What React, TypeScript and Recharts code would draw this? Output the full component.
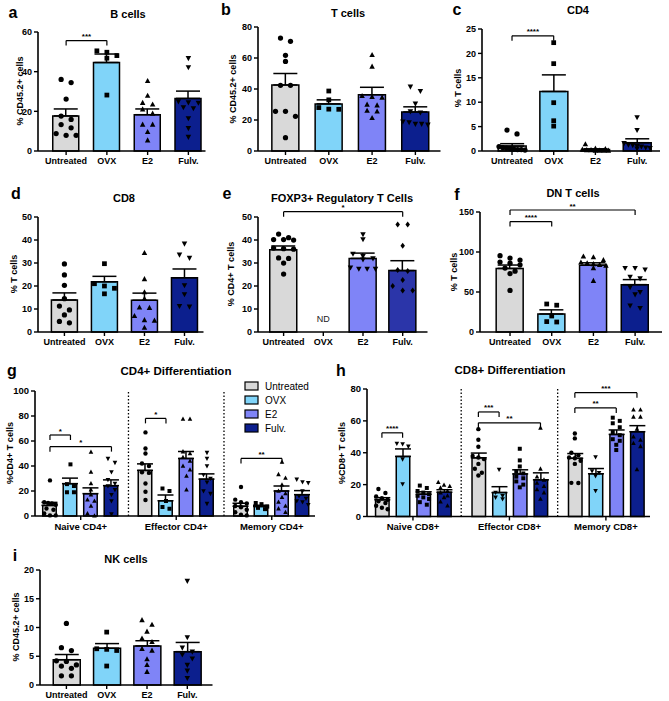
import React from 'react';
import { ComposedChart, Bar, Cell, ErrorBar, Scatter, XAxis, YAxis, ReferenceLine, ReferenceDot } from 'recharts';

const FONT = '"Liberation Sans", Arial, Helvetica, sans-serif';

// ---------- categories ----------
const GROUPS = ['Untreated', 'OVX', 'E2', 'Fulv.'];
const CD4_SUBSETS = ['Naive CD4+', 'Effector CD4+', 'Memory CD4+'];
const CD8_SUBSETS = ['Naive CD8+', 'Effector CD8+', 'Memory CD8+'];

// ---------- a: B cells (% CD45.2+ cells) ----------
const bCellsMean = [17.7, 44.6, 18.3, 26.5];
const bCellsSem = [3.5, 4.3, 2.9, 3.7];
const bCellsPoints = [
  [36.1, 34.5, 26.2, 17.6, 15.9, 13.3, 11.7, 8.8, 7.9, 7.9],
  [50.5, 49.8, 48.1, 46.8, 28.2],
  [35.3, 27.9, 24.3, 23.5, 21.0, 18.9, 13.3, 13.3, 9.6, 5.4],
  [46.8, 42.2, 25.0, 24.5, 24.3, 22.0, 21.5, 16.5, 11.5, 7.1],
];
const bCellsSig = [{ from: 0, to: 1, y: 55.7, label: '***' }];

// ---------- b: T cells (% CD45.2+ cells) ----------
const tCellsMean = [42.6, 30.4, 36.3, 25.2];
const tCellsSem = [7.4, 2.6, 4.8, 3.3];
const tCellsPoints = [
  [72.9, 70.8, 61.7, 57.8, 42.4, 42.4, 25.6, 25.6, 22.4, 8.6],
  [38.7, 33.0, 28.0, 27.0, 26.9],
  [62.0, 54.5, 35.5, 35.0, 34.5, 30.0, 29.5, 26.0, 25.5, 21.3],
  [41.5, 38.7, 30.5, 25.5, 24.8, 19.0, 18.5, 17.5, 17.5, 17.0],
];

// ---------- c: CD4 (% T cells) ----------
const cd4Mean = [1.0, 12.2, 0.3, 1.7];
const cd4Sem = [0.5, 3.4, 0.15, 0.8];
const cd4Points = [
  [4.3, 3.5, 0.9, 0.7, 0.6, 0.5, 0.4, 0.3, 0.3, 0.2],
  [22.2, 17.9, 9.9, 6.2, 5.1],
  [1.4, 0.5, 0.4, 0.3, 0.2, 0.2, 0.1, 0.1, 0.1, 0.1],
  [6.9, 4.3, 1.6, 1.3, 1.2, 1.0, 0.9, 0.7, 0.6, 0.5],
];
const cd4Sig = [{ from: 0, to: 1, y: 23.6, label: '****' }];

// ---------- d: CD8 (% T cells) ----------
const cd8Mean = [13.9, 21.8, 13.8, 23.6];
const cd8Sem = [3.1, 2.4, 3.1, 3.8];
const cd8Points = [
  [29.6, 24.8, 20.3, 14.5, 11.3, 9.6, 7.4, 4.6, 4.0],
  [29.7, 21.0, 20.0, 19.0, 16.6],
  [34.4, 23.0, 17.3, 14.5, 10.7, 10.5, 7.0, 5.2, 5.0, 1.9],
  [38.4, 33.6, 32.2, 20.3, 16.4, 11.3, 11.0],
];

// ---------- e: FOXP3+ Regulatory T cells (% CD4+ T cells) ----------
const tregMean = [35.8, null, 32.0, 26.7];
const tregSem = [1.6, 0, 2.3, 4.3];
const tregPoints = [
  [42.6, 41.0, 40.2, 40.2, 40.0, 36.5, 36.2, 36.0, 32.2, 32.0, 30.0, 25.2],
  [],
  [42.5, 40.3, 34.0, 33.0, 32.0, 31.5, 28.0, 27.5, 27.5, 27.4],
  [46.7, 46.7, 37.5, 27.0, 26.5, 22.6, 20.0, 18.0, 18.0],
];
const tregSig = [{ from: 0, to: 3, y: 52.3, label: '*' }];
const tregNotes = [{ x: 1, y: 5.6, text: 'ND' }];

// ---------- f: DN T cells (% T cells) ----------
const dnMean = [79.5, 22.5, 83.5, 59.2];
const dnSem = [4.2, 5.2, 3.0, 6.3];
const dnPoints = [
  [95.4, 92.4, 90.0, 87.4, 86.0, 84.0, 80.0, 76.0, 73.0, 52.0],
  [35.0, 33.5, 20.0, 13.0, 12.5],
  [94.5, 93.5, 90.0, 87.0, 86.0, 85.0, 84.0, 83.0, 80.0, 64.0],
  [80.0, 80.0, 78.0, 69.0, 67.0, 56.0, 50.0, 47.0, 33.0, 30.0],
];
const dnSig = [
  { from: 0, to: 3, y: 152.5, label: '**' },
  { from: 0, to: 1, y: 138, label: '****' },
];

// ---------- g: CD4+ differentiation (%CD4+ T cells) ----------
const cd4NaiveMean = [8.5, 25.9, 17.9, 24.3];
const cd4NaiveSem = [2.4, 4.4, 4.6, 4.6];
const cd4NaivePoints = [
  [28.5, 11, 10.5, 10, 9, 6, 5, 2, 0.5, 0.5],
  [41.3, 25.5, 24, 19, 19],
  [51.2, 35.2, 26, 21, 17, 13, 12, 8, 2, 0.2],
  [45.9, 42.7, 35.2, 29, 26, 24, 21, 17, 12, 1.5],
];
const cd4EffMean = [36.5, 12.2, 46.0, 29.5];
const cd4EffSem = [5.2, 4.6, 5.6, 4.2];
const cd4EffPoints = [
  [66.9, 54, 50, 42, 40, 35, 34.5, 26, 19.4, 12.8],
  [22, 20, 12, 7.2, 5.8],
  [77.6, 77.6, 51.5, 50, 47, 44, 40, 37, 32, 21],
  [50.7, 46, 40, 33, 30, 27, 20, 17.9, 9.9],
];
const cd4MemMean = [7.8, 7.6, 20.0, 17.1];
const cd4MemSem = [2.4, 1.0, 4.0, 3.2];
const cd4MemPoints = [
  [23.2, 13.1, 11, 10, 8, 7, 5, 3, 1, 0.5],
  [10.4, 9.5, 7.5, 6.5, 5.5],
  [43.2, 33.3, 30.4, 25, 20, 18, 15, 11.2, 8, 5.9, 3],
  [29.3, 27.2, 26.5, 20, 16, 14, 12, 11.2, 9],
];
const cd4DiffSig = [
  { from: 0, to: 1, y: 64.8, label: '*' },
  { from: 0, to: 3, y: 55.5, label: '*' },
  { from: 4, to: 5, y: 78.1, label: '*' },
  { from: 8, to: 10, y: 46.1, label: '**' },
];

// ---------- h: CD8+ differentiation (%CD8+ T cells) ----------
const cd8NaiveMean = [10.5, 37.7, 14.0, 15.2];
const cd8NaiveSem = [1.3, 4.7, 1.5, 1.6];
const cd8NaivePoints = [
  [17.3, 14.7, 12.5, 11.5, 10.5, 9.5, 8.5, 6.7, 5.5, 4.5],
  [45.8, 45.5, 44, 36, 20.4],
  [19.4, 17.9, 16, 15, 14, 13, 12, 11, 9, 7.4],
  [21.5, 19.8, 19, 18, 16, 15, 13, 12, 9.3, 6.7],
];
const cd8EffMean = [36.8, 15.0, 26.7, 23.0];
const cd8EffSem = [3.0, 3.7, 2.6, 4.4];
const cd8EffPoints = [
  [54.8, 48.2, 43.8, 38, 37, 36, 33, 30, 27.5, 25.7],
  [29.5, 15, 13, 12, 11],
  [42.5, 35.2, 31.4, 28.5, 27, 25, 24, 22, 20, 18.3],
  [55.6, 29.9, 25, 23, 21, 19, 17, 15, 11],
];
const cd8MemMean = [36.5, 26.8, 51.5, 53.2];
const cd8MemSem = [3.0, 3.3, 2.8, 3.8];
const cd8MemPoints = [
  [52.1, 49, 40, 38.5, 37, 36.5, 35, 33, 21.1, 21],
  [37.3, 28.5, 27.5, 25.5, 16.2],
  [62, 60, 58.5, 56, 53, 51, 48.5, 47.5, 45, 41.7],
  [67, 67, 62.5, 62.5, 55, 50, 48, 46, 44, 29.5],
];
const cd8DiffSig = [
  { from: 0, to: 1, y: 52.5, label: '****' },
  { from: 4, to: 5, y: 65.6, label: '***' },
  { from: 4, to: 7, y: 58.8, label: '**' },
  { from: 8, to: 11, y: 77.7, label: '***' },
  { from: 8, to: 10, y: 68.1, label: '**' },
];

// ---------- i: NK cells (% CD45.2+ cells) ----------
const nkMean = [4.4, 6.4, 6.8, 5.8];
const nkSem = [0.9, 0.8, 0.9, 1.6];
const nkPoints = [
  [10.7, 6.5, 6.0, 4.2, 4.1, 3.5, 3.3, 2.9, 1.6, 1.6],
  [9.2, 6.3, 6.2, 6.0, 3.3],
  [11.3, 10.5, 9.3, 8.1, 7.5, 6.3, 6.0, 4.5, 3.5, 2.3],
  [18.1, 8.3, 6.5, 5.8, 5.3, 4.6, 3.5, 2.5, 1.2],
];

// ---------- styles ----------
const COLORS = ['#d9d9d9', '#80d4f9', '#7f84f7', '#0c1f8e'];
const TREG_COLORS = ['#d9d9d9', '#80d4f9', '#7f84f7', '#2b35a9'];
const SHAPES_STD = ['circle', 'square', 'triUp', 'triDown'];
const SHAPES_TREG = ['circle', 'square', 'triDown', 'diamond'];
const SHAPES_CD8 = ['circle', 'triDown', 'square', 'triUp'];

const GROUP_STEP = 4.66;
const diffXs = [0, 1, 2].flatMap((g) => [0, 1, 2, 3].map((t) => g * GROUP_STEP + t));
const diffTicks = [0, 1, 2].map((g) => g * GROUP_STEP + 1.5);
const diffSeps = [1.5 + GROUP_STEP / 2, 1.5 + GROUP_STEP * 1.5];

type Sig = { from: number; to: number; y: number; label: string };
type PanelCfg = {
  box: { l: number; t: number; r: number; b: number };
  xDomain: [number, number];
  xs: number[];
  xTicks: number[];
  xLabels: string[];
  yMax: number;
  yTicks: number[];
  means: (number | null)[];
  sems: number[];
  points: number[][];
  colors: string[];
  shapes: string[];
  sig?: Sig[];
  separators?: number[];
  barSize: number;
  marker: number;
  spread: number;
  cap: number;
  tickFont: number;
  notes?: { x: number; y: number; text: string }[];
};

const YW = 34, MT = 24, MR = 6, XH = 24;

function swarm(values: number[], center: number, pxX: number, pxY: number, d: number, step: number, maxHalf: number) {
  const sorted = [...values].sort((a, b) => b - a);
  const rows: number[][] = [];
  for (const v of sorted) {
    const row = rows[rows.length - 1];
    if (row && (row[0] - v) * pxY < d) row.push(v);
    else rows.push([v]);
  }
  const out: { px: number; v: number }[] = [];
  for (const row of rows) {
    const n = row.length;
    const st = n > 1 ? Math.min(step, (2 * maxHalf) / (n - 1)) : 0;
    row.forEach((v, i) => out.push({ px: center + ((i - (n - 1) / 2) * st) / pxX, v }));
  }
  return out;
}

function Marker({ kind, cx, cy, s }: { kind: string; cx: number; cy: number; s: number }) {
  if (cx == null || cy == null || isNaN(cx) || isNaN(cy)) return null;
  const h = s / 2;
  switch (kind) {
    case 'circle':
      return <circle cx={cx} cy={cy} r={h * 1.05} fill="#000" />;
    case 'square':
      return <rect x={cx - h * 0.95} y={cy - h * 0.95} width={h * 1.9} height={h * 1.9} fill="#000" />;
    case 'triUp':
      return <polygon points={`${cx},${cy - h * 1.2} ${cx - h * 1.1},${cy + h * 0.85} ${cx + h * 1.1},${cy + h * 0.85}`} fill="#000" />;
    case 'triDown':
      return <polygon points={`${cx},${cy + h * 1.2} ${cx - h * 1.1},${cy - h * 0.85} ${cx + h * 1.1},${cy - h * 0.85}`} fill="#000" />;
    default:
      return <polygon points={`${cx},${cy - h * 1.2} ${cx + h * 0.9},${cy} ${cx},${cy + h * 1.2} ${cx - h * 0.9},${cy}`} fill="#000" />;
  }
}

function Panel(c: PanelCfg) {
  const w = c.box.r - c.box.l;
  const h = c.box.b - c.box.t;
  const pxX = w / (c.xDomain[1] - c.xDomain[0]);
  const pxY = h / c.yMax;
  const barData = c.xs
    .map((x, i) => ({ x, mean: c.means[i], err: [0, c.sems[i]], fill: c.colors[i] }))
    .filter((d) => d.mean != null);
  const drop = 5 / pxY;
  const tickStyle = { fontSize: c.tickFont, fontWeight: 700, fill: '#000', fontFamily: FONT };
  const axisStyle = { stroke: '#000', strokeWidth: 1.6 };
  return (
    <div style={{ position: 'absolute', left: c.box.l - YW, top: c.box.t - MT }}>
      <ComposedChart
        width={w + YW + MR}
        height={h + MT + XH}
        data={barData}
        margin={{ top: MT, right: MR, bottom: 0, left: 0 }}
      >
        <XAxis
          type="number"
          dataKey="x"
          domain={c.xDomain}
          ticks={c.xTicks}
          interval={0}
          tickFormatter={(v: number) => c.xLabels[c.xTicks.indexOf(v)] ?? ''}
          height={XH}
          tick={tickStyle}
          tickSize={4}
          tickMargin={3}
          axisLine={axisStyle}
          tickLine={{ stroke: '#000', strokeWidth: 1.4 }}
        />
        <XAxis xAxisId="pts" type="number" dataKey="px" domain={c.xDomain} hide />
        <YAxis
          type="number"
          domain={[0, c.yMax]}
          ticks={c.yTicks}
          interval={0}
          width={YW}
          tick={tickStyle}
          tickSize={4}
          tickMargin={2}
          axisLine={axisStyle}
          tickLine={{ stroke: '#000', strokeWidth: 1.4 }}
        />
        {(c.separators || []).map((s, i) => (
          <ReferenceLine key={'sep' + i} x={s} stroke="#000" strokeWidth={1.3} strokeDasharray="1.5 2" ifOverflow="visible" />
        ))}
        <Bar dataKey="mean" barSize={c.barSize} isAnimationActive={false} stroke="#000" strokeWidth={1.5}>
          {barData.map((d, i) => (
            <Cell key={i} fill={d.fill} />
          ))}
          <ErrorBar dataKey="err" width={c.cap} stroke="#000" strokeWidth={1.5} direction="y" />
        </Bar>
        {c.points.map((vals, i) =>
          vals.length ? (
            <Scatter
              key={'pts' + i}
              xAxisId="pts"
              data={swarm(vals, c.xs[i], pxX, pxY, c.marker, c.spread, c.barSize / 2 - 1)}
              dataKey="v"
              isAnimationActive={false}
              shape={(p: any) => <Marker kind={c.shapes[i]} cx={p.cx} cy={p.cy} s={c.marker} />}
            />
          ) : null
        )}
        {(c.sig || []).flatMap((s, i) => {
          const x1 = c.xs[s.from];
          const x2 = c.xs[s.to];
          return [
            <ReferenceLine key={'sh' + i} segment={[{ x: x1, y: s.y }, { x: x2, y: s.y }]} stroke="#000" strokeWidth={1.2} ifOverflow="visible" />,
            <ReferenceLine key={'sl' + i} segment={[{ x: x1, y: s.y }, { x: x1, y: s.y - drop }]} stroke="#000" strokeWidth={1.2} ifOverflow="visible" />,
            <ReferenceLine key={'sr' + i} segment={[{ x: x2, y: s.y }, { x: x2, y: s.y - drop }]} stroke="#000" strokeWidth={1.2} ifOverflow="visible" />,
            <ReferenceDot
              key={'st' + i}
              x={(x1 + x2) / 2}
              y={s.y}
              r={1}
              ifOverflow="visible"
              shape={(p: any) => (
                <text x={p.cx} y={p.cy - 1.5} textAnchor="middle" fontSize={8} fontWeight={700} fill="#000" fontFamily={FONT}>
                  {s.label}
                </text>
              )}
            />,
          ];
        })}
        {(c.notes || []).map((n, i) => (
          <ReferenceDot
            key={'note' + i}
            x={n.x}
            y={n.y}
            r={1}
            ifOverflow="visible"
            shape={(p: any) => (
              <text x={p.cx} y={p.cy} textAnchor="middle" dominantBaseline="central" fontSize={9} fill="#222" fontFamily={FONT}>
                {n.text}
              </text>
            )}
          />
        ))}
      </ComposedChart>
    </div>
  );
}

const STD = [0, 1, 2, 3];

function Texts() {
  const letters: [string, number, number][] = [
    ['a', 13, 12], ['b', 226, 9], ['c', 457, 9],
    ['d', 16, 193], ['e', 227, 193], ['f', 457, 194],
    ['g', 12, 370], ['h', 341, 370], ['i', 15, 555],
  ];
  const titles: [string, number, number, number][] = [
    ['B cells', 128, 14, 11], ['T cells', 348, 13, 11], ['CD4', 578, 10, 11],
    ['CD8', 124, 198, 11], ['FOXP3+ Regulatory T Cells', 342, 198, 11], ['DN T cells', 573, 193, 11],
    ['CD4+ Differentiation', 176, 371, 11.5], ['CD8+ Differentiation', 510, 370, 11.5],
    ['NK cells', 126, 559, 11],
  ];
  const ylabels: [string, number, number][] = [
    ['% CD45.2+ cells', 20, 91], ['% CD45.2+ cells', 233, 89], ['% T cells', 458, 88],
    ['% T cells', 14, 274], ['% CD4+ T cells', 231, 274], ['% T cells', 454, 272],
    ['%CD4+ T cells', 10, 453], ['%CD8+ T cells', 342, 453], ['% CD45.2+ cells', 16, 627],
  ];
  const legendY = [386, 400, 414, 428];
  return (
    <svg width={669} height={701} style={{ position: 'absolute', left: 0, top: 0 }} fontFamily={FONT}>
      {letters.map(([t, x, y]) => (
        <text key={t} x={x} y={y} textAnchor="middle" dominantBaseline="central" fontSize={16} fontWeight={700} fill="#000">
          {t}
        </text>
      ))}
      {titles.map(([t, x, y, fs]) => (
        <text key={t} x={x} y={y} textAnchor="middle" dominantBaseline="central" fontSize={fs} fontWeight={700} fill="#000">
          {t}
        </text>
      ))}
      {ylabels.map(([t, x, y], i) => (
        <text
          key={'yl' + i}
          x={x}
          y={y}
          transform={`rotate(-90 ${x} ${y})`}
          textAnchor="middle"
          dominantBaseline="central"
          fontSize={9}
          fontWeight={700}
          fill="#000"
        >
          {t}
        </text>
      ))}
      {GROUPS.map((g, i) => (
        <g key={'lg' + i}>
          <rect x={245} y={legendY[i] - 4} width={13} height={8} fill={COLORS[i]} stroke="#000" strokeWidth={1.2} />
          <text x={265} y={legendY[i]} dominantBaseline="central" fontSize={10} fill="#000">
            {g}
          </text>
        </g>
      ))}
    </svg>
  );
}

export default function App() {
  const common4 = { xs: STD, xTicks: STD, xLabels: GROUPS, marker: 5, spread: 10, cap: 12, tickFont: 9 };
  const commonDiff = { xs: diffXs, xTicks: diffTicks, separators: diffSeps, marker: 4.2, spread: 7, cap: 8, tickFont: 9.5, barSize: 13.5 };
  return (
    <div style={{ position: 'absolute', left: 0, top: 0, width: 669, height: 701, background: '#fff', fontFamily: FONT, overflow: 'hidden' }}>
      <Texts />
      <Panel {...common4} box={{ l: 37.5, t: 32, r: 205, b: 151 }} xDomain={[-0.69, 3.42]} yMax={60} yTicks={[0, 20, 40, 60]}
        means={bCellsMean} sems={bCellsSem} points={bCellsPoints} colors={COLORS} shapes={SHAPES_STD} sig={bCellsSig} barSize={26} />
      <Panel {...common4} box={{ l: 257.5, t: 27, r: 440, b: 151 }} xDomain={[-0.635, 3.58]} yMax={80} yTicks={[0, 20, 40, 60, 80]}
        means={tCellsMean} sems={tCellsSem} points={tCellsPoints} colors={COLORS} shapes={SHAPES_STD} barSize={27} />
      <Panel {...common4} box={{ l: 482, t: 29, r: 660, b: 151 }} xDomain={[-0.72, 3.55]} yMax={25} yTicks={[0, 5, 10, 15, 20, 25]}
        means={cd4Mean} sems={cd4Sem} points={cd4Points} colors={COLORS} shapes={SHAPES_STD} sig={cd4Sig} barSize={28} />
      <Panel {...common4} box={{ l: 37.5, t: 217, r: 203, b: 332 }} xDomain={[-0.66, 3.475]} yMax={50} yTicks={[0, 10, 20, 30, 40, 50]}
        means={cd8Mean} sems={cd8Sem} points={cd8Points} colors={COLORS} shapes={SHAPES_STD} barSize={26} />
      <Panel {...common4} box={{ l: 257.5, t: 217, r: 427, b: 332 }} xDomain={[-0.645, 3.625]} yMax={50} yTicks={[0, 10, 20, 30, 40, 50]}
        means={tregMean} sems={tregSem} points={tregPoints} colors={TREG_COLORS} shapes={SHAPES_TREG} sig={tregSig} notes={tregNotes} barSize={27} />
      <Panel {...common4} box={{ l: 480, t: 212, r: 662, b: 332 }} xDomain={[-0.72, 3.645]} yMax={150} yTicks={[0, 50, 100, 150]}
        means={dnMean} sems={dnSem} points={dnPoints} colors={COLORS} shapes={SHAPES_STD} sig={dnSig} barSize={27} />
      <Panel {...commonDiff} box={{ l: 35, t: 391, r: 315, b: 516 }} xDomain={[-0.73, 12.93]} xLabels={CD4_SUBSETS}
        yMax={100} yTicks={[0, 20, 40, 60, 80, 100]}
        means={[...cd4NaiveMean, ...cd4EffMean, ...cd4MemMean]}
        sems={[...cd4NaiveSem, ...cd4EffSem, ...cd4MemSem]}
        points={[...cd4NaivePoints, ...cd4EffPoints, ...cd4MemPoints]}
        colors={[...COLORS, ...COLORS, ...COLORS]} shapes={[...SHAPES_STD, ...SHAPES_STD, ...SHAPES_STD]} sig={cd4DiffSig} />
      <Panel {...commonDiff} box={{ l: 367, t: 389, r: 650, b: 516.5 }} xDomain={[-0.72, 12.95]} xLabels={CD8_SUBSETS}
        yMax={80} yTicks={[0, 20, 40, 60, 80]}
        means={[...cd8NaiveMean, ...cd8EffMean, ...cd8MemMean]}
        sems={[...cd8NaiveSem, ...cd8EffSem, ...cd8MemSem]}
        points={[...cd8NaivePoints, ...cd8EffPoints, ...cd8MemPoints]}
        colors={[...COLORS, ...COLORS, ...COLORS]} shapes={[...SHAPES_CD8, ...SHAPES_CD8, ...SHAPES_CD8]} sig={cd8DiffSig} />
      <Panel {...common4} box={{ l: 39.5, t: 570, r: 212, b: 685 }} xDomain={[-0.655, 3.625]} yMax={20} yTicks={[0, 5, 10, 15, 20]}
        means={nkMean} sems={nkSem} points={nkPoints} colors={COLORS} shapes={SHAPES_STD} barSize={27} />
    </div>
  );
}
